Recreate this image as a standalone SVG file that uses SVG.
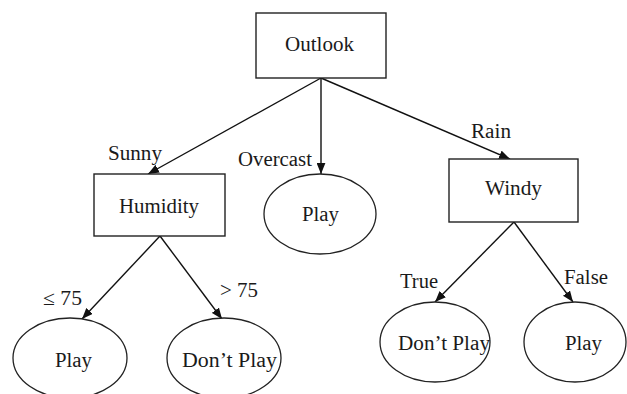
<svg xmlns="http://www.w3.org/2000/svg" width="627" height="394" viewBox="0 0 627 394" font-family="'Liberation Serif', 'Times New Roman', serif">
<defs>
<marker id="arr" viewBox="0 0 10 8" refX="10" refY="4" markerWidth="11" markerHeight="9" orient="auto" markerUnits="userSpaceOnUse">
<path d="M0,0 L10,4 L0,8 z" fill="#111"/>
</marker>
</defs>
<style>
.box{fill:#fff;stroke:#222;stroke-width:1.4}
.ell{fill:#fff;stroke:#222;stroke-width:1.3}
.t{font-family:'Liberation Serif','Times New Roman',serif;font-size:20px;fill:#1a1a1a}
.e{stroke:#111;stroke-width:1.4;fill:none;marker-end:url(#arr)}
</style>
<rect width="627" height="394" fill="#fff"/>
<g id="edges">
<line class="e" x1="321" y1="78" x2="148" y2="174"/>
<line class="e" x1="321" y1="78" x2="321" y2="174"/>
<line class="e" x1="321" y1="78" x2="510" y2="159"/>
<line class="e" x1="160" y1="236" x2="82" y2="319"/>
<line class="e" x1="160" y1="236" x2="222" y2="319"/>
<line class="e" x1="514" y1="222" x2="435" y2="302"/>
<line class="e" x1="514" y1="222" x2="573" y2="302"/>
<text class="t" x="108" y="160" textLength="54" lengthAdjust="spacingAndGlyphs">Sunny</text>
<text class="t" x="238" y="166" textLength="74" lengthAdjust="spacingAndGlyphs">Overcast</text>
<text class="t" x="471" y="138" textLength="40" lengthAdjust="spacingAndGlyphs">Rain</text>
<text class="t" x="43" y="305" textLength="39" lengthAdjust="spacingAndGlyphs">≤ 75</text>
<text class="t" x="220" y="297" textLength="38" lengthAdjust="spacingAndGlyphs">&gt; 75</text>
<text class="t" x="400" y="288" textLength="38" lengthAdjust="spacingAndGlyphs">True</text>
<text class="t" x="564" y="284" textLength="44" lengthAdjust="spacingAndGlyphs">False</text>
</g>
<g id="outlook">
<rect class="box" x="256" y="13" width="130" height="65"/>
<text class="t" x="285" y="51" textLength="69" lengthAdjust="spacingAndGlyphs">Outlook</text>
</g>
<g id="humidity">
<rect class="box" x="94" y="174" width="131" height="62"/>
<text class="t" x="119" y="213" textLength="80" lengthAdjust="spacingAndGlyphs">Humidity</text>
</g>
<g id="play-overcast">
<ellipse class="ell" cx="320" cy="214" rx="56" ry="40"/>
<text class="t" x="302" y="221" textLength="37" lengthAdjust="spacingAndGlyphs">Play</text>
</g>
<g id="windy">
<rect class="box" x="449" y="159" width="129" height="63"/>
<text class="t" x="485" y="195" textLength="57" lengthAdjust="spacingAndGlyphs">Windy</text>
</g>
<g id="play-low">
<ellipse class="ell" cx="70" cy="358" rx="57" ry="40"/>
<text class="t" x="55" y="367" textLength="37" lengthAdjust="spacingAndGlyphs">Play</text>
</g>
<g id="dontplay-high">
<ellipse class="ell" cx="224" cy="358" rx="57" ry="40"/>
<text class="t" x="182" y="367" textLength="95" lengthAdjust="spacingAndGlyphs">Don’t Play</text>
</g>
<g id="dontplay-true">
<ellipse class="ell" cx="435" cy="342" rx="55" ry="40"/>
<text class="t" x="398" y="350" textLength="92" lengthAdjust="spacingAndGlyphs">Don’t Play</text>
</g>
<g id="play-false">
<ellipse class="ell" cx="575" cy="342" rx="51" ry="40"/>
<text class="t" x="565" y="350" textLength="37" lengthAdjust="spacingAndGlyphs">Play</text>
</g>
</svg>
